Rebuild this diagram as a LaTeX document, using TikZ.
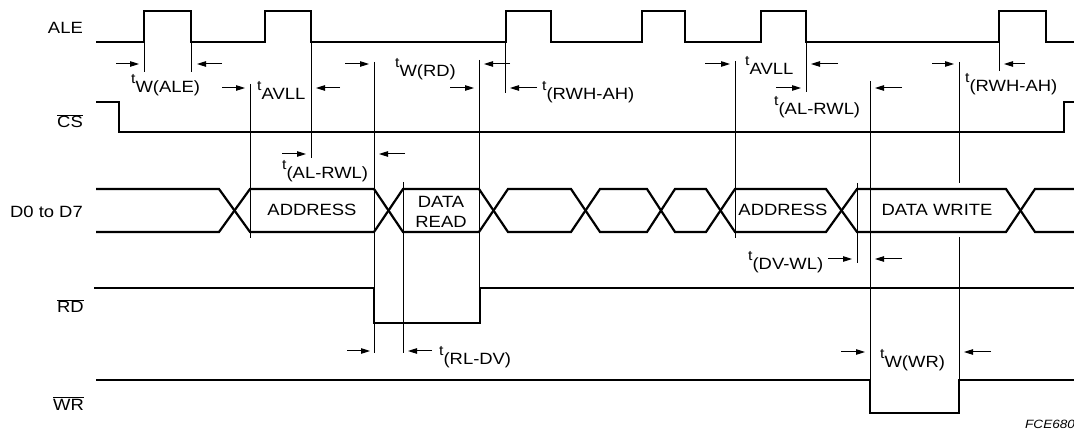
\documentclass[tikz,border=0pt]{standalone}
\usepackage{fontspec}
\setmainfont{Liberation Sans}[FakeStretch=1.13]
\usetikzlibrary{arrows.meta}
\newcommand{\tsub}[1]{\raisebox{9pt}{\fontsize{14}{15}\selectfont t}{\fontsize{16.3}{18}\selectfont #1}}
\begin{document}
\begin{tikzpicture}[x=1pt,y=-1pt,
  sig/.style={line width=2.2pt, line join=miter, line cap=butt},
  tick/.style={line width=0.8pt},
  arr/.style={line width=1pt, -{Triangle[length=9pt,width=5.5pt]}},
  lbl/.style={inner sep=0pt, anchor=base west, font=\fontsize{16.3}{18}\selectfont},
  sname/.style={inner sep=0pt, anchor=base east, font=\fontsize{16.3}{18}\selectfont},
  dlbl/.style={inner sep=0pt, anchor=base, font=\fontsize{16.3}{18}\selectfont}]
\useasboundingbox (0,0) rectangle (1074,430);

% signal names
\node[sname] (nALE) at (83,34) {ALE};
\node[sname] (nCS) at (83,128) {$\overline{\mbox{CS}}$};
\node[sname] (nD) at (83,218) {D0 to D7};
\node[sname] (nRD) at (84,313) {$\overline{\mbox{RD}}$};
\node[sname] (nWR) at (84,410) {$\overline{\mbox{WR}}$};

% ALE
\draw[sig] (96,42) -| (144,11) -| (191,42) -| (265,11) -| (311,42) -| (506,11) -| (551,42)
  -| (642,11) -| (685,42) -| (761,11) -| (806,42) -| (999,11) -| (1046,42) -- (1074,42);
% CS
\draw[sig] (96,102) -| (119,132) -| (1064,102) -- (1074,102);
% Data bus
\draw[sig] (96,189) -- (219,189) -- (250,232) -- (374,232) -- (403,189) -- (479,189) -- (508,232)
  -- (571,232) -- (600,189) -- (647,189) -- (675,232) -- (706,232) -- (735,189) -- (826,189)
  -- (857,232) -- (1006,232) -- (1035,189) -- (1074,189);
\draw[sig] (96,232) -- (219,232) -- (250,189) -- (374,189) -- (403,232) -- (479,232) -- (508,189)
  -- (571,189) -- (600,232) -- (647,232) -- (675,189) -- (706,189) -- (735,232) -- (826,232)
  -- (857,189) -- (1006,189) -- (1035,232) -- (1074,232);
% RD
\draw[sig] (94,288) -| (374,323) -| (480,288) -- (1074,288);
% WR
\draw[sig] (96,380) -| (870,413) -| (959,380) -- (1074,380);

% data labels
\node[dlbl] (a1) at (312,216) {ADDRESS};
\node[dlbl] (dr1) at (441,208) {DATA};
\node[dlbl] (dr2) at (441,228) {READ};
\node[dlbl] (a2) at (783,216) {ADDRESS};
\node[dlbl] (dw) at (937,216) {DATA WRITE};

% thin reference lines
\draw[tick] (144,42) -- (144,72);
\draw[tick] (191,42) -- (191,72);
\draw[tick] (250,84) -- (250,238);
\draw[tick] (311,42) -- (311,158);
\draw[tick] (374,62) -- (374,353);
\draw[tick] (403,182) -- (403,353);
\draw[tick] (479,60) -- (479,288);
\draw[tick] (505,42) -- (505,93);
\draw[tick] (735,61) -- (735,238);
\draw[tick] (806,42) -- (806,92);
\draw[tick] (857,183) -- (857,263);
\draw[tick] (870,81) -- (870,380);
\draw[tick] (959,62) -- (959,183);
\draw[tick] (959,237) -- (959,380);
\draw[tick] (999,42) -- (999,71);

% arrows
\draw[arr] (116,64) -- (139,64);
\draw[arr] (222,64) -- (197,64);
\draw[arr] (222,88) -- (245,88);
\draw[arr] (340,88) -- (316,88);
\draw[arr] (345,64) -- (369,64);
\draw[arr] (510,64) -- (484,64);
\draw[arr] (450,88) -- (474,88);
\draw[arr] (537,88) -- (510,88);
\draw[arr] (282,154) -- (306,154);
\draw[arr] (405,154) -- (379,154);
\draw[arr] (347,351) -- (370,351);
\draw[arr] (432,351) -- (408,351);
\draw[arr] (705,64) -- (730,64);
\draw[arr] (838,64) -- (811,64);
\draw[arr] (776,88) -- (801,88);
\draw[arr] (902,88) -- (875,88);
\draw[arr] (932,64) -- (954,64);
\draw[arr] (1025,64) -- (1004,64);
\draw[arr] (828,259) -- (852,259);
\draw[arr] (902,259) -- (875,259);
\draw[arr] (841,352) -- (865,352);
\draw[arr] (991,352) -- (964,352);

% timing labels
\node[lbl] (twale) at (131,93) {\tsub{W(ALE)}};
\node[lbl] (tavll1) at (257,100) {\tsub{AVLL}};
\node[lbl] (twrd) at (395,77) {\tsub{W(RD)}};
\node[lbl] (trwh1) at (542,100) {\tsub{(RWH-AH)}};
\node[lbl] (talrwl1) at (282,179) {\tsub{(AL-RWL)}};
\node[lbl] (trldv) at (439,364) {\tsub{(RL-DV)}};
\node[lbl] (tavll2) at (745,75) {\tsub{AVLL}};
\node[lbl] (talrwl2) at (774,115) {\tsub{(AL-RWL)}};
\node[lbl] (trwh2) at (965,92) {\tsub{(RWH-AH)}};
\node[lbl] (tdvwl) at (748,270) {\tsub{(DV-WL)}};
\node[lbl] (twwr) at (880,367) {\tsub{W(WR)}};

\node[lbl, font=\fontsize{12}{14}\selectfont\itshape] (fig) at (1025,428) {FCE680};
\end{tikzpicture}
\end{document}
